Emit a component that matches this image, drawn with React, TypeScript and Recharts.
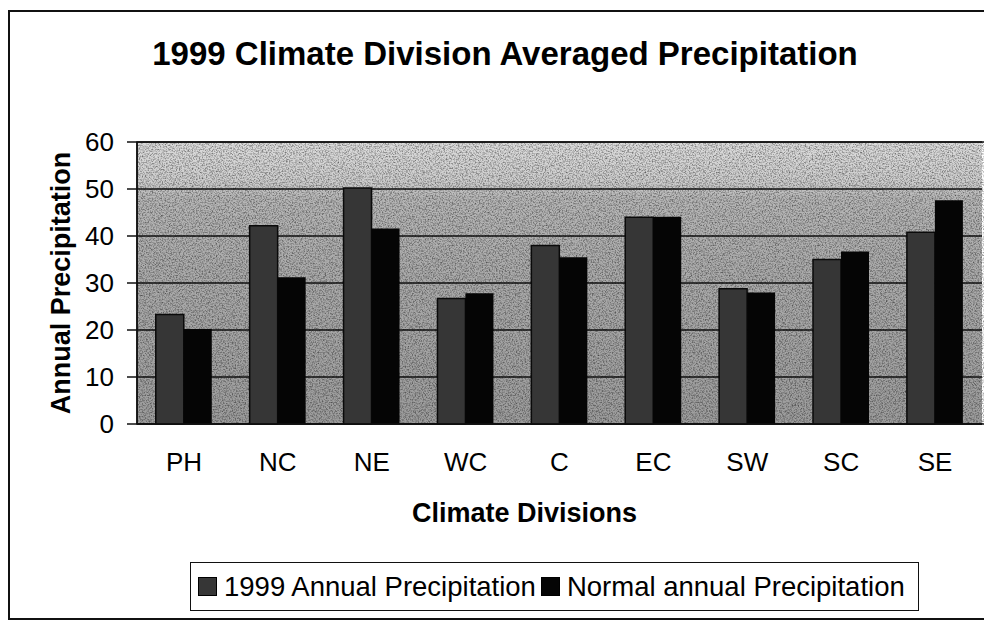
import { BarChart, Bar, XAxis, YAxis, CartesianGrid, Legend, ReferenceArea } from 'recharts';

// climate divisions and precipitation (inches)
const divisions = ['PH', 'NC', 'NE', 'WC', 'C', 'EC', 'SW', 'SC', 'SE'];
const precip1999 = [23.3, 42.2, 50.2, 26.7, 38, 44, 28.8, 35, 40.8];
const precipNormal = [20.2, 31.2, 41.6, 27.8, 35.5, 44.1, 28, 36.7, 47.6];
const yTicks = [0, 10, 20, 30, 40, 50, 60];
const boundaryTicks = [0, 1, 2, 3, 4, 5, 6, 7, 8, 9];

const data = divisions.map((name, i) => ({
  name,
  y1999: precip1999[i],
  normal: precipNormal[i],
}));

const FONT = 'Arial, "Liberation Sans", sans-serif';

const LegendBox = (props: any) => {
  const { payload } = props;
  return (
    <div
      style={{
        boxSizing: 'border-box',
        width: '100%',
        height: '100%',
        border: '1.5px solid #111',
        background: '#fff',
        display: 'flex',
        alignItems: 'center',
        paddingLeft: 7,
        fontFamily: FONT,
        fontSize: 27.5,
        color: '#000',
        whiteSpace: 'nowrap',
      }}
    >
      {(payload || []).map((entry: any, i: number) => (
        <span key={`leg-${i}`} style={{ display: 'flex', alignItems: 'center', marginRight: 5 }}>
          <span
            style={{
              display: 'inline-block',
              width: 17,
              height: 17,
              background: entry.color,
              border: '1px solid #000',
              marginRight: 7,
            }}
          />
          {entry.value}
        </span>
      ))}
    </div>
  );
};

const App = () => {
  return (
    <div style={{ position: 'relative', width: 984, height: 614, fontFamily: FONT }}>
      {/* page must not scroll: drop the bottom body margin */}
      <style>{'body { margin-bottom: 0; overflow: hidden; }'}</style>
      {/* outer frame of the chart object */}
      <div
        style={{
          position: 'absolute',
          left: 0,
          top: 2,
          width: 982,
          height: 606,
          border: '2px solid #111',
          borderRight: 'none',
        }}
      />
      <div
        style={{
          position: 'absolute',
          left: 10,
          top: 29,
          width: 974,
          textAlign: 'center',
          fontSize: 33,
          lineHeight: '33px',
          fontWeight: 'bold',
          color: '#000',
          whiteSpace: 'nowrap',
        }}
      >
        1999 Climate Division Averaged Precipitation
      </div>
      <div style={{ position: 'absolute', left: 0, top: 0 }}>
        <BarChart
          width={984}
          height={614}
          data={data}
          margin={{ top: 134, right: 10, bottom: 98, left: 0 }}
          barCategoryGap="20%"
          barGap={0}
        >
          <defs>
            <linearGradient id="plotBg" x1="0" y1="0" x2="0" y2="1">
              <stop offset="0%" stopColor="#dcdcdc" />
              <stop offset="14%" stopColor="#cdcdcd" />
              <stop offset="20%" stopColor="#b6b6b6" />
              <stop offset="45%" stopColor="#ababab" />
              <stop offset="100%" stopColor="#9c9c9c" />
            </linearGradient>
            <filter id="grain" x="0" y="0" width="100%" height="100%">
              <feTurbulence type="fractalNoise" baseFrequency="0.7" numOctaves="3" seed="7" result="noise" />
              <feColorMatrix
                in="noise"
                type="matrix"
                values="0 0 0 0 0  0 0 0 0 0  0 0 0 0 0  1.1 0 0 0 -0.45"
                result="dots"
              />
              <feComposite in="dots" in2="SourceGraphic" operator="in" />
            </filter>
          </defs>
          <CartesianGrid
            vertical={false}
            stroke="#111"
            strokeWidth={1.5}
            fill="url(#plotBg)"
            fillOpacity={1}
          />
          {/* speckled texture of the plot area */}
          <ReferenceArea
            xAxisId="b"
            x1={0}
            x2={9}
            y1={0}
            y2={60}
            fill="#000"
            fillOpacity={1}
            filter="url(#grain)"
            ifOverflow="visible"
          />
          {/* boundary ticks between categories, Excel style */}
          <XAxis
            xAxisId="b"
            type="number"
            domain={[0, 9]}
            ticks={boundaryTicks}
            tick={false}
            tickSize={8}
            height={1}
            axisLine={{ stroke: '#111', strokeWidth: 1.5 }}
            tickLine={{ stroke: '#111', strokeWidth: 1.5 }}
          />
          <XAxis
            xAxisId="cat"
            dataKey="name"
            height={99}
            axisLine={false}
            tickLine={false}
            tickSize={0}
            tickMargin={28}
            tick={{ fontSize: 26, fill: '#000', fontFamily: FONT }}
            label={{
              value: 'Climate Divisions',
              position: 'insideBottom',
              offset: 2,
              dx: -35,
              style: { fontSize: 27, fontWeight: 'bold', fill: '#000', fontFamily: FONT },
            }}
          />
          <YAxis
            domain={[0, 60]}
            ticks={yTicks}
            width={129}
            tickSize={10}
            tickMargin={13}
            axisLine={{ stroke: '#111', strokeWidth: 1.5 }}
            tickLine={{ stroke: '#111', strokeWidth: 1.5 }}
            tick={{ fontSize: 26, fill: '#000', fontFamily: FONT }}
            label={{
              value: 'Annual Precipitation',
              angle: -90,
              position: 'insideLeft',
              offset: 52,
              style: { textAnchor: 'middle', fontSize: 27, fontWeight: 'bold', fill: '#000', fontFamily: FONT },
            }}
          />
          <ReferenceArea
            xAxisId="b"
            x1={0}
            x2={9}
            y1={0}
            y2={60}
            fill="none"
            fillOpacity={0}
            stroke="#111"
            strokeWidth={1.5}
            ifOverflow="visible"
          />
          <Bar
            xAxisId="cat"
            dataKey="y1999"
            name="1999 Annual Precipitation"
            fill="#363636"
            stroke="#0a0a0a"
            strokeWidth={1.5}
            isAnimationActive={false}
          />
          <Bar
            xAxisId="cat"
            dataKey="normal"
            name="Normal annual Precipitation"
            fill="#050505"
            isAnimationActive={false}
          />
          <Legend
            verticalAlign="middle"
            layout="horizontal"
            content={<LegendBox />}
            wrapperStyle={{ left: 182, top: 554, width: 729, height: 49 }}
          />
        </BarChart>
      </div>
    </div>
  );
};

export default App;
